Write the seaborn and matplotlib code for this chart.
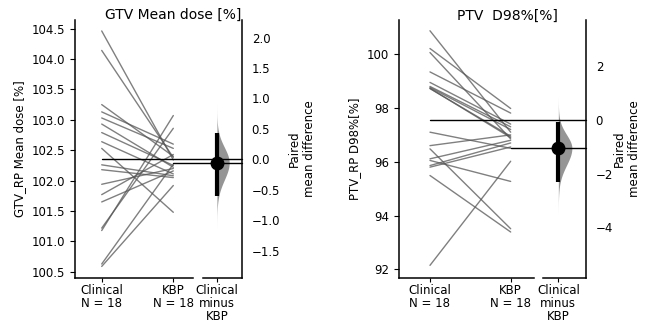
import numpy as np
import pandas as pd
import matplotlib
matplotlib.use("Agg")
import matplotlib.pyplot as plt
import matplotlib.transforms as mtrans
import seaborn as sns

# ---------------- data ----------------
groups = ["Clinical", "KBP"]
group_labels = ["Clinical\nN = 18", "KBP\nN = 18"]
contrast_label = "Clinical\nminus\nKBP"

gtv_clinical = [104.46, 104.14, 103.25, 103.13, 103.03, 102.93, 102.79, 102.64, 102.53,
                102.26, 102.18, 101.94, 101.77, 101.65, 101.22, 101.18, 100.63, 100.59]
gtv_kbp = [102.34, 102.38, 102.40, 102.60, 102.53, 102.22, 102.25, 102.11, 101.48,
           102.08, 102.05, 102.20, 102.43, 102.16, 102.86, 103.07, 102.27, 101.92]
gtv_ci = [-0.61, 0.44]

ptv_clinical = [100.87, 100.21, 100.06, 99.34, 98.95, 98.80, 98.76, 98.73, 98.72,
                97.10, 96.60, 96.48, 96.11, 96.05, 95.86, 95.80, 95.49, 92.15]
ptv_kbp = [97.10, 97.98, 96.85, 97.81, 97.40, 97.30, 97.20, 96.90, 96.95,
           96.50, 97.00, 93.51, 96.80, 95.27, 96.70, 96.55, 93.39, 96.02]
ptv_ci = [-2.30, -0.07]

panels = [
    dict(title="GTV Mean dose [%]", ylabel="GTV_RP Mean dose [%]",
         c=gtv_clinical, k=gtv_kbp, ci=gtv_ci, ylim=(100.40, 104.64),
         yticks=[100.5, 101.0, 101.5, 102.0, 102.5, 103.0, 103.5, 104.0, 104.5],
         rticks=[-1.5, -1.0, -0.5, 0.0, 0.5, 1.0, 1.5, 2.0], rfmt="{:.1f}",
         ax_px=(75, 193), cx_px=(203, 242), xlim=(-0.373, 1.275),
         title_x=173, title_y=15, rlab_x=302),
    dict(title="PTV  D98%[%]", ylabel="PTV_RP D98%[%]",
         c=ptv_clinical, k=ptv_kbp, ci=ptv_ci, ylim=(91.68, 101.27),
         yticks=[92, 94, 96, 98, 100],
         rticks=[-4, -2, 0, 2], rfmt="{:.0f}",
         ax_px=(399, 534), cx_px=(543, 586), xlim=(-0.384, 1.289),
         title_x=507, title_y=16, rlab_x=627),
]

W, H = 647, 326
sns.set_style("ticks", {"axes.edgecolor": "black", "text.color": "black",
                        "xtick.color": "black", "ytick.color": "black",
                        "axes.labelcolor": "black"})
plt.rcParams["font.family"] = ["DejaVu Sans"]
plt.rcParams["axes.linewidth"] = 1.1
fig = plt.figure(figsize=(W / 100, H / 100), dpi=100)

top_px, bot_px = 20, 278
for p in panels:
    l, r = p["ax_px"]
    ax = fig.add_axes([l / W, 1 - bot_px / H, (r - l) / W, (bot_px - top_px) / H])
    cl, cr = p["cx_px"]
    cax = fig.add_axes([cl / W, 1 - bot_px / H, (cr - cl) / W, (bot_px - top_px) / H])

    n = len(p["c"])
    df = pd.DataFrame({
        "pair": list(range(n)) * 2,
        "x": [0] * n + [1] * n,
        "value": list(p["c"]) + list(p["k"]),
    })
    sns.lineplot(data=df, x="x", y="value", units="pair", estimator=None,
                 color="#555555", alpha=0.75, lw=1.0, ax=ax, legend=False)

    ax.set_xlim(*p["xlim"])
    ax.set_ylim(*p["ylim"])
    ax.set_xticks([0, 1])
    ax.set_xticklabels(group_labels, fontsize=8.5, linespacing=1.0)
    ax.set_yticks(p["yticks"])
    ax.set_yticklabels([str(t) for t in p["yticks"]], fontsize=8.5)
    ax.tick_params(axis="x", pad=1.5, length=3)
    ax.tick_params(axis="y", length=3.5)
    ax.set_xlabel("")
    ax.set_ylabel(p["ylabel"], fontsize=8.5)
    sns.despine(ax=ax)

    mc = float(np.mean(p["c"]))
    mk = float(np.mean(p["k"]))
    diff = mk - mc
    lo, hi = p["ci"]

    # contrast axis
    ylo, yhi = p["ylim"]
    cax.set_ylim(ylo - mc, yhi - mc)
    cax.set_xlim(-0.5, 0.9)
    cax.yaxis.tick_right()
    cax.yaxis.set_label_position("right")
    cax.set_yticks(p["rticks"])
    cax.set_yticklabels([p["rfmt"].format(t).replace("-", "\u2212") for t in p["rticks"]], fontsize=8.5)
    cax.set_xticks([0])
    cax.set_xticklabels([contrast_label], fontsize=8.5, linespacing=1.0)
    cax.tick_params(axis="x", pad=1.5, length=3)
    cax.tick_params(axis="y", length=3.5)
    sns.despine(ax=cax, left=True, right=False)
    cax.set_facecolor("none")

    # half violin (split normal from mean diff and CI)
    sd_hi = (hi - diff) / 1.96
    sd_lo = (diff - lo) / 1.96
    yy = np.linspace(diff - 3.8 * sd_lo, diff + 3.8 * sd_hi, 300)
    sd = np.where(yy >= diff, sd_hi, sd_lo)
    dens = np.exp(-0.5 * ((yy - diff) / sd) ** 2)
    cax.fill_betweenx(yy, 0, 0.44 * dens, color="#8a8a8a", alpha=0.9, lw=0)
    cax.plot([0, 0], [lo, hi], color="black", lw=3, solid_capstyle="butt")
    cax.plot([0], [diff], "o", color="black", ms=9)

    # mean reference lines across both axes
    fig.canvas.draw()
    tr = mtrans.blended_transform_factory(fig.transFigure, ax.transData)
    x0c = (l + (0 - p["xlim"][0]) / (p["xlim"][1] - p["xlim"][0]) * (r - l)) / W
    x0k = (l + (1 - p["xlim"][0]) / (p["xlim"][1] - p["xlim"][0]) * (r - l)) / W
    xend = cr / W
    for xs, m in [(x0c, mc), (x0k, mk)]:
        fig.add_artist(plt.Line2D([xs, xend], [m, m], transform=tr, color="black", lw=1.0))

    fig.text(p["title_x"] / W, 1 - p["title_y"] / H, p["title"], ha="center", va="center", fontsize=10)
    fig.text(p["rlab_x"] / W, 1 - 149 / H, "Paired\nmean difference", rotation=90,
             ha="center", va="center", fontsize=8.5)

fig.savefig("out.png", dpi=100)
